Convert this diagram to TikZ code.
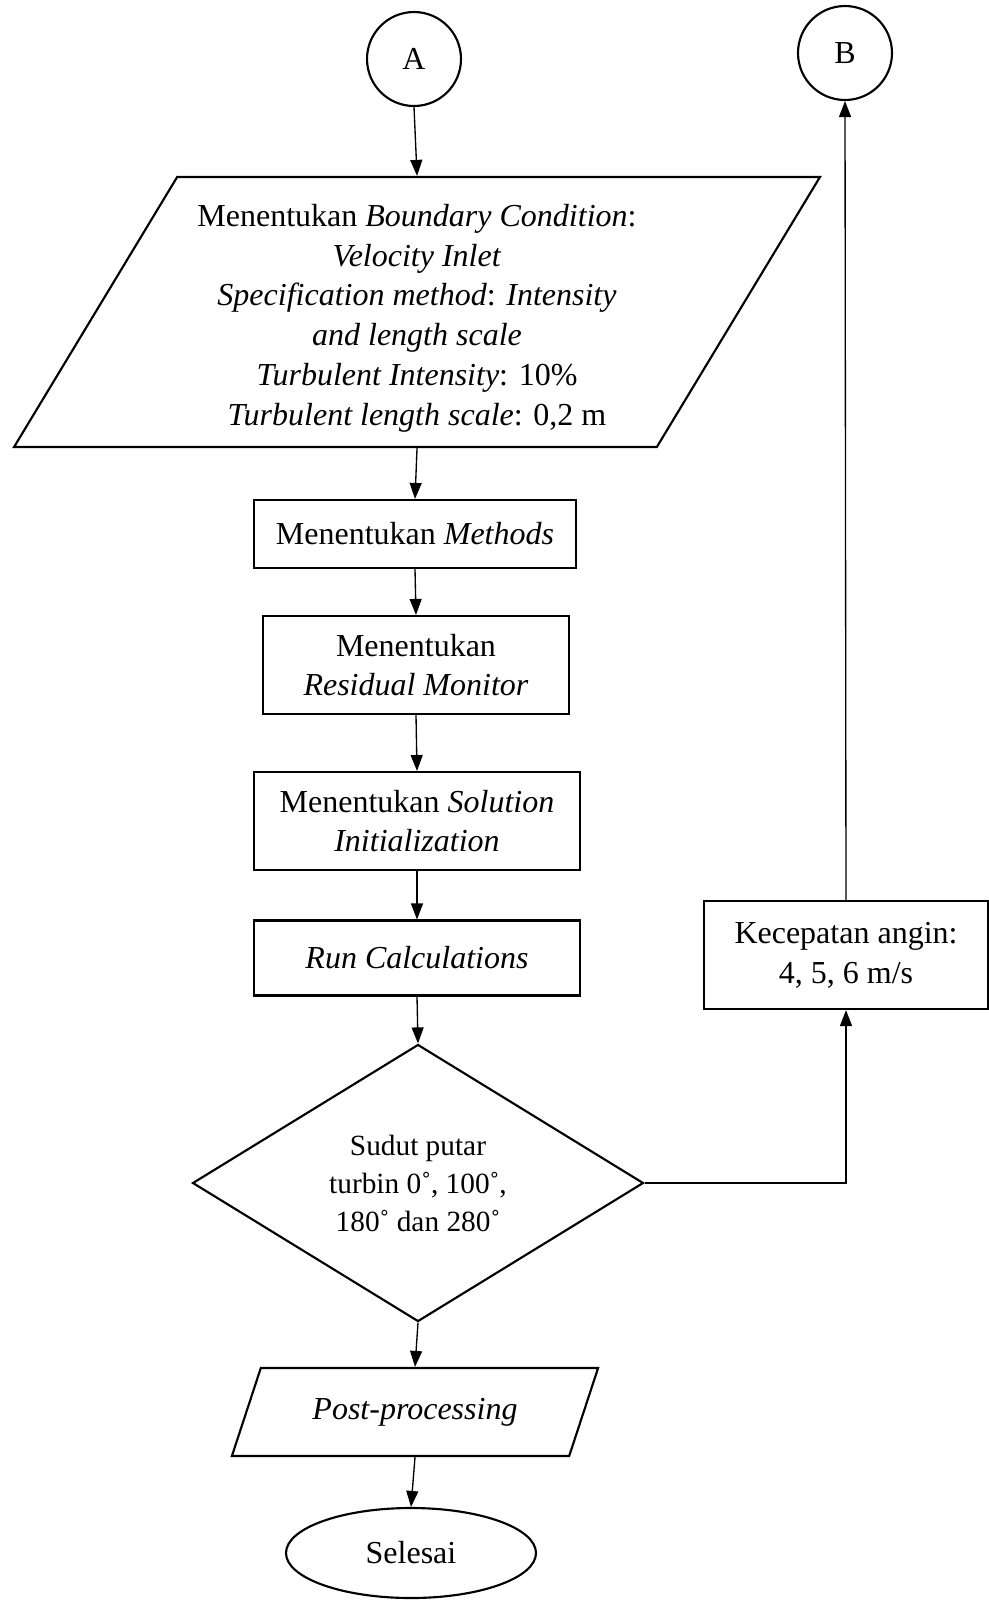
\documentclass[tikz,border=0pt]{standalone}
\usepackage{fontspec}
\setmainfont{Liberation Serif}
\usetikzlibrary{positioning, arrows.meta, shapes.geometric}

\begin{document}
\begin{tikzpicture}[x=0.375pt, y=-0.375pt, >={Triangle[length=6pt, width=4.5pt]},
    box/.style={draw, line width=0.8pt, font=\fontsize{12}{14.9}\selectfont, align=center, inner sep=2pt},
    proses/.style={box, rectangle},
    io/.style={box, trapezium, trapezium stretches=true},
    konektor/.style={box, circle, minimum size=35.25pt},
    link/.style={->, line width=0.5pt}]
\useasboundingbox (0,0) rectangle (989,1600);

% konektor
\node[konektor] (A) at (414,59) {A};
\node[konektor] (B) at (845,53) {B};

% input boundary condition
\node[io, trapezium left angle=58.6, trapezium right angle=121.4,
      minimum width=302.6pt, minimum height=101.25pt] (bc) at (417,312)
    {\\[-2pt]Menentukan \textit{Boundary Condition}:\\
     \textit{Velocity Inlet}\\
     \textit{Specification method}: \textit{Intensity}\\
     \textit{and length scale}\\
     \textit{Turbulent Intensity}: 10\%\\
     \textit{Turbulent length scale}: 0,2 m};

% proses
\node[proses, minimum width=120.75pt, minimum height=25.5pt] (met) at (415,534) {Menentukan \textit{Methods}};
\node[proses, minimum width=114.75pt, minimum height=36.75pt] (res) at (416,665) {Menentukan\\ \textit{Residual Monitor}};
\node[proses, minimum width=122.25pt, minimum height=36.75pt] (sol) at (417,821) {Menentukan \textit{Solution}\\ \textit{Initialization}};
\node[proses, minimum width=122.25pt, minimum height=28.1pt] (run) at (417,958) {\textit{Run Calculations}};

% keputusan
\node[box, diamond, aspect=1.6, inner sep=1pt, font=\fontsize{11}{14.25}\selectfont,
      minimum width=169.1pt, minimum height=103.9pt] (cek) at (418,1183)
    {Sudut putar\\ turbin 0˚, 100˚,\\ 180˚ dan 280˚};

% output
\node[io, trapezium left angle=62.4, trapezium right angle=117.6,
      minimum width=137.6pt, minimum height=33pt] (post) at (415,1412) {\textit{Post-processing}};
\node[box, ellipse, minimum width=93.75pt, minimum height=33.75pt] (end) at (411,1553) {Selesai};

\node[proses, minimum width=106.5pt, minimum height=40.5pt] (kec) at (846,955) {Kecepatan angin:\\ 4, 5, 6 m/s};

% alur
\draw[link] (A.south) -- (bc.north);
\draw[link] (bc.south) -- (met.north);
\draw[link] (met.south) -- (res.north);
\draw[link] (res.south) -- (sol.north);
\draw[link] (sol.south) -- (run.north);
\draw[link] (run.south) -- (cek.north);
\draw[link] (cek.south) -- (post.north);
\draw[link] (post.south) -- (end.north);
\draw[link] (cek.east) -| (kec.south);
\draw[link] (kec.north) -- (B.south);
\end{tikzpicture}
\end{document}
